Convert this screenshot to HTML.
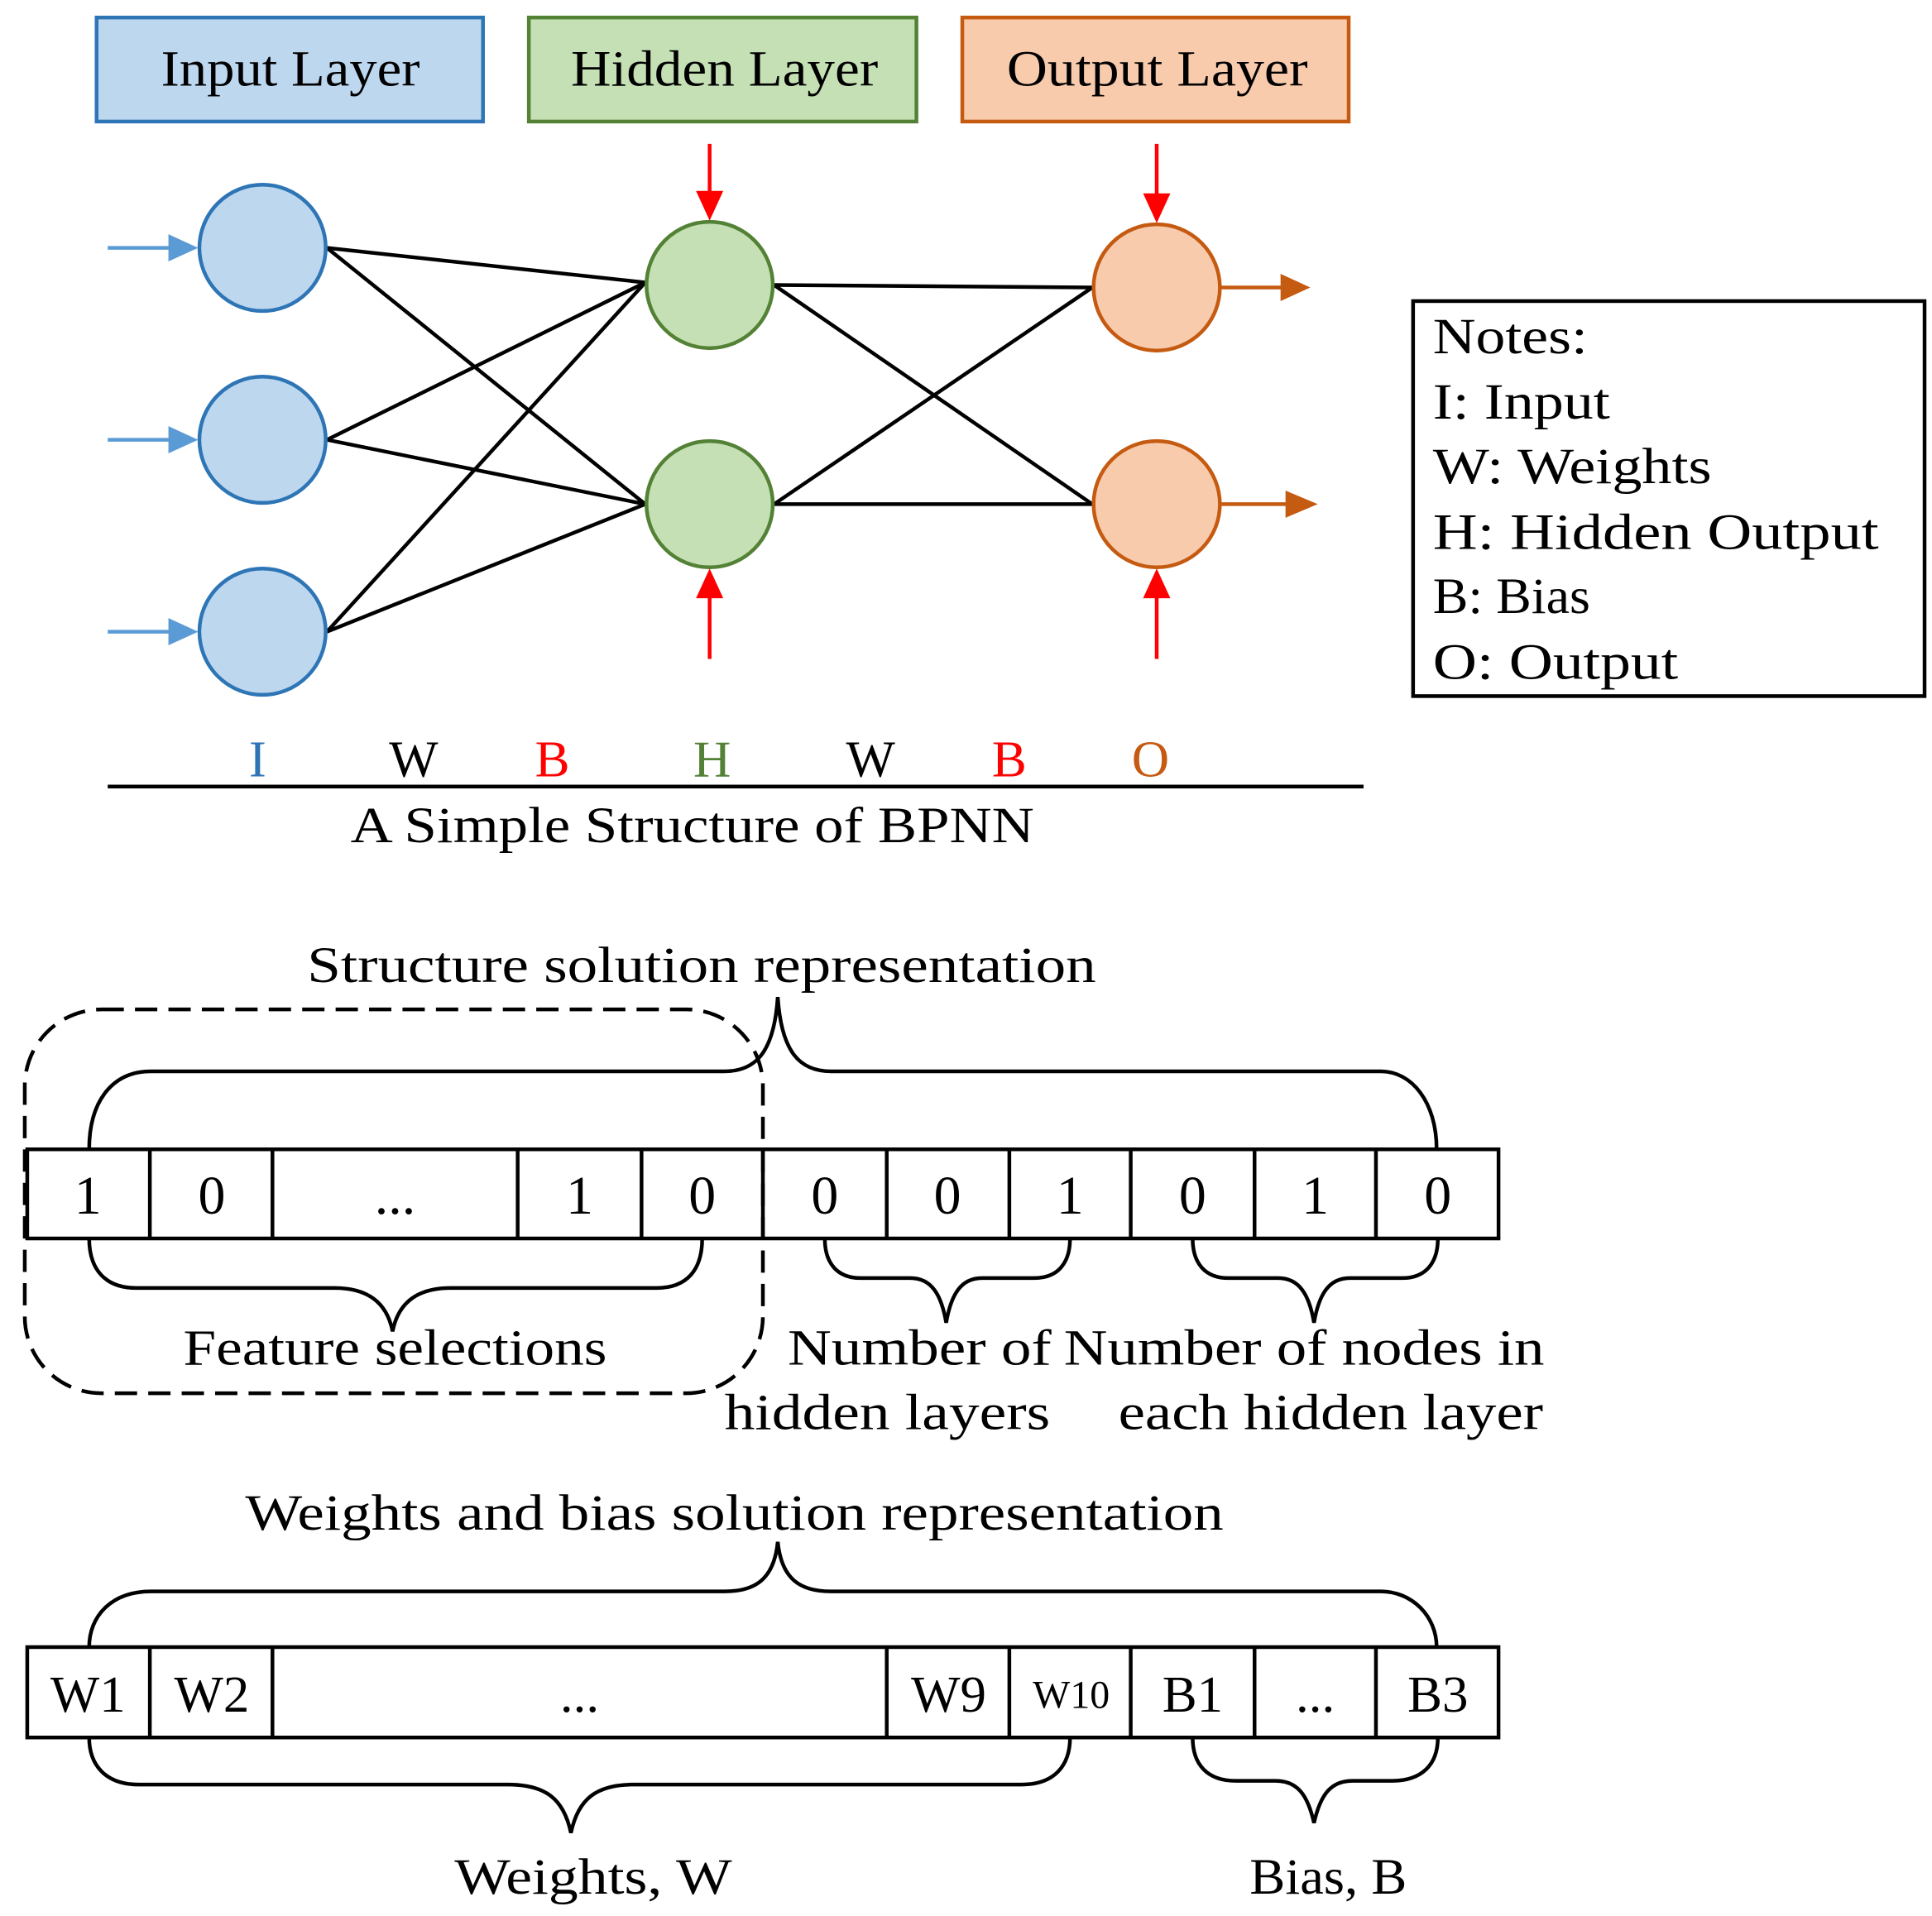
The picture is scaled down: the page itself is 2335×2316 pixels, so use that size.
<!DOCTYPE html>
<html><head><meta charset="utf-8"><style>html,body{margin:0;padding:0;background:#fff}svg{display:block}</style></head>
<body>
<svg width="2335" height="2316" viewBox="0 0 1560 1547" xmlns="http://www.w3.org/2000/svg" font-family="'Liberation Serif', serif">
<g stroke-width="3">
<rect x="78" y="14" width="312" height="84" fill="#bdd7ee" stroke="#2e75b6"/>
<rect x="427" y="14" width="313" height="84" fill="#c5e0b4" stroke="#538135"/>
<rect x="777" y="14" width="312" height="84" fill="#f8cbad" stroke="#c55a11"/>
</g>
<g font-size="41" fill="#000" lengthAdjust="spacingAndGlyphs">
<text x="130" y="69" textLength="209" lengthAdjust="spacingAndGlyphs">Input Layer</text>
<text x="461" y="69" textLength="248" lengthAdjust="spacingAndGlyphs">Hidden Layer</text>
<text x="813" y="69" textLength="243" lengthAdjust="spacingAndGlyphs">Output Layer</text>
</g>
<g stroke="#000" stroke-width="3">
<line x1="264" y1="200" x2="521" y2="228"/><line x1="264" y1="200" x2="521" y2="407"/>
<line x1="264" y1="355" x2="521" y2="228"/><line x1="264" y1="355" x2="521" y2="407"/>
<line x1="264" y1="510" x2="521" y2="228"/><line x1="264" y1="510" x2="521" y2="407"/>
<line x1="625" y1="230" x2="882" y2="232"/><line x1="625" y1="230" x2="882" y2="407"/>
<line x1="625" y1="407" x2="882" y2="232"/><line x1="625" y1="407" x2="882" y2="407"/>
</g>
<g stroke-width="3">
<circle cx="212" cy="200" r="51" fill="#bdd7ee" stroke="#2e75b6"/>
<circle cx="212" cy="355" r="51" fill="#bdd7ee" stroke="#2e75b6"/>
<circle cx="212" cy="510" r="51" fill="#bdd7ee" stroke="#2e75b6"/>
<circle cx="573" cy="230" r="51" fill="#c5e0b4" stroke="#538135"/>
<circle cx="573" cy="407" r="51" fill="#c5e0b4" stroke="#538135"/>
<circle cx="934" cy="232" r="51" fill="#f8cbad" stroke="#c55a11"/>
<circle cx="934" cy="407" r="51" fill="#f8cbad" stroke="#c55a11"/>
</g>
<g stroke="#5b9bd5" stroke-width="3">
<line x1="87" y1="200" x2="138" y2="200"/><line x1="87" y1="355" x2="138" y2="355"/><line x1="87" y1="510" x2="138" y2="510"/>
</g>
<g fill="#5b9bd5">
<path d="M136,189 L160,200 L136,211Z"/><path d="M136,344 L160,355 L136,366Z"/><path d="M136,499 L160,510 L136,521Z"/>
</g>
<g stroke="#c55a11" stroke-width="3"><line x1="986" y1="232" x2="1036" y2="232"/><line x1="986" y1="407" x2="1040" y2="407"/></g>
<g fill="#c55a11"><path d="M1034,221 L1058,232 L1034,243Z"/><path d="M1038,396 L1064,407 L1038,418Z"/></g>
<g stroke="#ff0000" stroke-width="3">
<line x1="573" y1="116" x2="573" y2="158"/><line x1="934" y1="116" x2="934" y2="160"/>
<line x1="573" y1="532" x2="573" y2="480"/><line x1="934" y1="532" x2="934" y2="480"/>
</g>
<g fill="#ff0000">
<path d="M562,154 L584,154 L573,178Z"/><path d="M923,156 L945,156 L934,180Z"/>
<path d="M562,483 L584,483 L573,459Z"/><path d="M923,483 L945,483 L934,459Z"/>
</g>
<rect x="1141" y="243" width="413" height="319" fill="#fff" stroke="#000" stroke-width="3"/>
<g font-size="41" fill="#000">
<text x="1157" y="285" textLength="125" lengthAdjust="spacingAndGlyphs">Notes:</text>
<text x="1157" y="338" textLength="143" lengthAdjust="spacingAndGlyphs">I: Input</text>
<text x="1157" y="390" textLength="225" lengthAdjust="spacingAndGlyphs">W: Weights</text>
<text x="1157" y="443" textLength="360" lengthAdjust="spacingAndGlyphs">H: Hidden Output</text>
<text x="1157" y="495" textLength="127" lengthAdjust="spacingAndGlyphs">B: Bias</text>
<text x="1157" y="548" textLength="198" lengthAdjust="spacingAndGlyphs">O: Output</text>
</g>
<g font-size="42" text-anchor="middle">
<text x="208" y="627" fill="#2e75b6">I</text>
<text x="334" y="627" fill="#000">W</text>
<text x="446" y="627" fill="#ff0000">B</text>
<text x="575" y="627" fill="#538135">H</text>
<text x="703" y="627" fill="#000">W</text>
<text x="815" y="627" fill="#ff0000">B</text>
<text x="929" y="627" fill="#c55a11">O</text>
</g>
<line x1="87" y1="635" x2="1101" y2="635" stroke="#000" stroke-width="3"/>
<text x="283" y="680" font-size="41" textLength="552" lengthAdjust="spacingAndGlyphs">A Simple Structure of BPNN</text>

<text x="248" y="793" font-size="41" textLength="637" lengthAdjust="spacingAndGlyphs">Structure solution representation</text>
<rect x="20" y="815" width="596" height="310" rx="62" fill="none" stroke="#000" stroke-width="3" stroke-dasharray="18,9"/>
<g fill="none" stroke="#000" stroke-width="3">
<path d="M72,928 C72,890 90,865 122,865 L585,865 C610,865 625,850 628,805 C631,850 646,865 671,865 L1115,865 C1140,865 1160,890 1160,928"/>
<path d="M72,1000 C72,1025 85,1040 110,1040 L270,1040 C295,1040 312,1050 317,1075 C322,1050 339,1040 364,1040 L530,1040 C555,1040 567,1025 567,1000"/>
<path d="M666,1000 C666,1020 676,1032 695,1032 L735,1032 C752,1032 760,1045 764,1068 C768,1045 776,1032 793,1032 L835,1032 C854,1032 864,1020 864,1000"/>
<path d="M963,1000 C963,1020 973,1032 992,1032 L1032,1032 C1049,1032 1057,1045 1061,1068 C1065,1045 1073,1032 1090,1032 L1132,1032 C1151,1032 1161,1020 1161,1000"/>
</g>
<rect x="22" y="928" width="1188" height="72" fill="none" stroke="#000" stroke-width="3"/>
<g stroke="#000" stroke-width="3">
<line x1="121" y1="928" x2="121" y2="1000"/><line x1="220" y1="928" x2="220" y2="1000"/><line x1="418" y1="928" x2="418" y2="1000"/><line x1="518" y1="928" x2="518" y2="1000"/><line x1="616" y1="928" x2="616" y2="1000"/><line x1="716" y1="928" x2="716" y2="1000"/><line x1="815" y1="928" x2="815" y2="1000"/><line x1="913" y1="928" x2="913" y2="1000"/><line x1="1013" y1="928" x2="1013" y2="1000"/><line x1="1111" y1="928" x2="1111" y2="1000"/>
</g>
<g font-size="44" text-anchor="middle">
<text x="71" y="980">1</text><text x="171" y="980">0</text><text x="319" y="980">...</text><text x="468" y="980">1</text><text x="567" y="980">0</text><text x="666" y="980">0</text><text x="765" y="980">0</text><text x="864" y="980">1</text><text x="963" y="980">0</text><text x="1062" y="980">1</text><text x="1161" y="980">0</text>
</g>
<g font-size="41">
<text x="148" y="1102" textLength="342" lengthAdjust="spacingAndGlyphs">Feature selections</text>
<text x="636" y="1102" textLength="213" lengthAdjust="spacingAndGlyphs">Number of</text>
<text x="585" y="1154" textLength="263" lengthAdjust="spacingAndGlyphs">hidden layers</text>
<text x="859" y="1102" textLength="388" lengthAdjust="spacingAndGlyphs">Number of nodes in</text>
<text x="903" y="1154" textLength="343" lengthAdjust="spacingAndGlyphs">each hidden layer</text>
</g>

<text x="198" y="1235" font-size="41" textLength="790" lengthAdjust="spacingAndGlyphs">Weights and bias solution representation</text>
<g fill="none" stroke="#000" stroke-width="3">
<path d="M72,1330 C72,1305 90,1285 122,1285 L585,1285 C610,1285 625,1275 628,1245 C631,1275 646,1285 671,1285 L1115,1285 C1140,1285 1160,1305 1160,1330"/>
<path d="M72,1403 C72,1425 85,1441 112,1441 L410,1441 C440,1441 455,1452 461,1480 C467,1452 482,1441 512,1441 L825,1441 C852,1441 864,1425 864,1403"/>
<path d="M963,1403 C963,1425 975,1438 998,1438 L1030,1438 C1048,1438 1056,1450 1061,1472 C1066,1450 1074,1438 1092,1438 L1124,1438 C1148,1438 1161,1425 1161,1403"/>
</g>
<rect x="22" y="1330" width="1188" height="73" fill="none" stroke="#000" stroke-width="3"/>
<g stroke="#000" stroke-width="3">
<line x1="121" y1="1330" x2="121" y2="1403"/><line x1="220" y1="1330" x2="220" y2="1403"/><line x1="716" y1="1330" x2="716" y2="1403"/><line x1="815" y1="1330" x2="815" y2="1403"/><line x1="913" y1="1330" x2="913" y2="1403"/><line x1="1013" y1="1330" x2="1013" y2="1403"/><line x1="1111" y1="1330" x2="1111" y2="1403"/>
</g>
<g font-size="42" text-anchor="middle">
<text x="71" y="1382">W1</text><text x="171" y="1382">W2</text><text x="468" y="1382">...</text><text x="766" y="1382">W9</text><text x="865" y="1379" font-size="32">W10</text><text x="963" y="1382">B1</text><text x="1062" y="1382">...</text><text x="1161" y="1382">B3</text>
</g>
<g font-size="41">
<text x="367" y="1529" textLength="224" lengthAdjust="spacingAndGlyphs">Weights, W</text>
<text x="1009" y="1529" textLength="127" lengthAdjust="spacingAndGlyphs">Bias, B</text>
</g>
</svg>
</body></html>
